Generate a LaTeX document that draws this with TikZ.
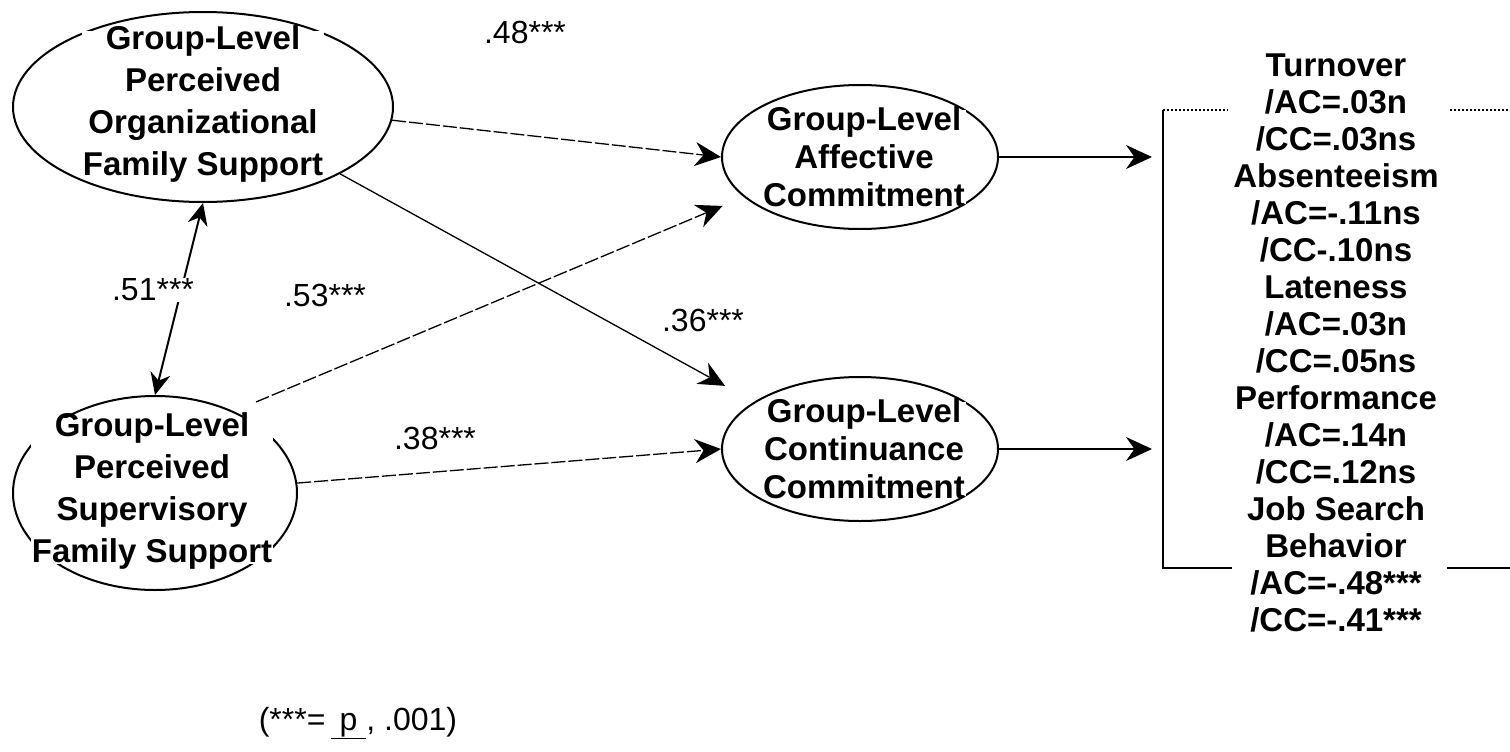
\documentclass[tikz,border=0pt]{standalone}
\usepackage{fontspec}
\setmainfont{Liberation Sans}
\usetikzlibrary{arrows.meta,shapes.geometric}
\begin{document}
\begin{tikzpicture}[x=1pt,y=-1pt,
  latent/.style={draw, ellipse, line width=2pt, inner sep=0pt},
  etext/.style={fill=white, align=center, inner xsep=1pt, inner ysep=-3pt,
    font=\fontsize{33}{38}\selectfont\bfseries},
  etextwide/.style={etext, inner ysep=-5pt, font=\fontsize{33}{42}\selectfont\bfseries},
  coef/.style={inner sep=1pt, font=\fontsize{32}{37}\selectfont},
  pathline/.style={line width=1.3pt, -{Stealth[length=26pt,width=24pt]}},
  brokenline/.style={pathline, dash pattern=on 14pt off 3pt},
  outarrow/.style={line width=2pt, -{Stealth[length=26pt,width=24pt]}},
  corrarrow/.style={line width=2pt, {Stealth[length=22pt,width=20pt]}-{Stealth[length=22pt,width=20pt]}},
  bracketline/.style={line width=2pt},
  bracketdots/.style={line width=2pt, dotted}
]
\useasboundingbox (0,0) rectangle (1510,752);

% latent variables
\node[latent, minimum width=380pt, minimum height=190pt] (ofs) at (203,107) {};
\node[etextwide] (ofsT) at (203,104) {Group-Level\\Perceived\\Organizational\\Family Support};

\node[latent, minimum width=284pt, minimum height=194pt] (psfs) at (155,493) {};
\node[etextwide] (psfsT) at (152,491) {Group-Level\\Perceived\\Supervisory\\Family Support};

\node[latent, minimum width=276pt, minimum height=144pt] (aff) at (860,157) {};
\node[etext] (affT) at (864,157) {Group-Level\\Affective\\Commitment};

\node[latent, minimum width=276pt, minimum height=144pt] (cont) at (860,449) {};
\node[etext] (contT) at (864,449) {Group-Level\\Continuance\\Commitment};

% outcomes
\node[align=center, inner sep=0pt, font=\fontsize{33}{37}\selectfont\bfseries] (out) at (1336,343)
  {Turnover\\/AC=.03n\\/CC=.03ns\\Absenteeism\\/AC=-.11ns\\/CC-.10ns\\Lateness\\/AC=.03n\\/CC=.05ns\\Performance\\/AC=.14n\\/CC=.12ns\\Job Search\\Behavior\\/AC=-.48***\\/CC=-.41***};
\coordinate (bTL) at (1163,110);
\coordinate (bBL) at (1163,568);
\coordinate (bTa) at (1228,110);
\coordinate (bTb) at (1450,110);
\coordinate (bTR) at (1510,110);
\coordinate (bBa) at (1232,568);
\coordinate (bBb) at (1447,568);
\coordinate (bBR) at (1510,568);
\draw[bracketline] (bTL) -- (bBL) -- (bBa);
\draw[bracketline] (bBb) -- (bBR);
\draw[bracketdots] (bTL) -- (bTa);
\draw[bracketdots] (bTb) -- (bTR);

% paths
\draw[brokenline] (ofs.-4) -- (aff.west);
\draw[pathline, shorten >=33pt] (ofs.-26) -- (cont.156);
\draw[brokenline, shorten <=24pt, shorten >=23pt] (psfs.46) -- (aff.199);
\draw[brokenline] (psfs.4) -- (cont.west);
\draw[outarrow, shorten >=11pt] (aff.east) -- (aff.east -| bTL);
\draw[outarrow, shorten >=11pt] (cont.east) -- (cont.east -| bTL);
\draw[corrarrow] (psfs.north) -- (ofs.south);

% coefficients
\node[coef] (c48) at (525,32) {.48***};
\node[coef, fill=white] (c51) at (153,290) {.51***};
\node[coef] (c53) at (325,295) {.53***};
\node[coef] (c36) at (703,320) {.36***};
\node[coef] (c38) at (435,438) {.38***};

\node[coef] (note) at (358,723) {(***=\,\underline{\ p\ }, .001)};
\end{tikzpicture}
\end{document}
